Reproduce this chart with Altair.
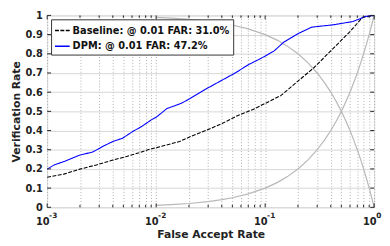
import altair as alt
import pandas as pd

# ---- data ----
dpm_far = [0.001, 0.00116, 0.00147, 0.00194, 0.00264, 0.00325, 0.004, 0.00492, 0.00605, 0.00745,
           0.00915, 0.0101, 0.0125, 0.017, 0.0202, 0.0285, 0.0389, 0.0531, 0.07, 0.0923, 0.121,
           0.149, 0.2, 0.268, 0.421, 0.637, 0.839, 1.0]
dpm_tar = [0.199, 0.221, 0.241, 0.270, 0.289, 0.318, 0.343, 0.360, 0.394, 0.423,
           0.458, 0.471, 0.514, 0.542, 0.565, 0.616, 0.658, 0.700, 0.743, 0.777, 0.815,
           0.862, 0.905, 0.939, 0.951, 0.968, 0.995, 1.0]

base_far = [0.001, 0.00142, 0.002, 0.00283, 0.004, 0.00527, 0.00695, 0.00855, 0.0101, 0.01125,
            0.0164, 0.0202, 0.0285, 0.0403, 0.0569, 0.0803, 0.121, 0.139, 0.278, 0.421, 0.594,
            0.783, 1.0]
base_tar = [0.157, 0.173, 0.199, 0.221, 0.246, 0.264, 0.284, 0.301, 0.311, 0.318,
            0.343, 0.366, 0.400, 0.437, 0.480, 0.514, 0.565, 0.582, 0.726, 0.828, 0.913,
            0.990, 1.0]

ref_far = [0.01, 0.015, 0.02, 0.03, 0.04, 0.05, 0.07, 0.1, 0.13, 0.16, 0.2, 0.25, 0.3, 0.35,
           0.4, 0.45, 0.5, 0.55, 0.6, 0.65, 0.7, 0.75, 0.8, 0.85, 0.9, 0.95, 1.0]
ref_up = [0.01, 0.015, 0.02, 0.03, 0.04, 0.05, 0.07, 0.1, 0.13, 0.16, 0.2, 0.25, 0.3, 0.35,
          0.4, 0.45, 0.5, 0.55, 0.6, 0.65, 0.7, 0.75, 0.8, 0.85, 0.9, 0.95, 1.0]
ref_down = [0.99, 0.985, 0.98, 0.97, 0.96, 0.95, 0.93, 0.9, 0.87, 0.84, 0.8, 0.75, 0.7, 0.65,
            0.6, 0.55, 0.5, 0.45, 0.4, 0.35, 0.3, 0.25, 0.2, 0.15, 0.1, 0.05, 0.0]

series_names = ["Baseline: @ 0.01 FAR: 31.0%", "DPM: @ 0.01 FAR: 47.2%"]

x_major = [0.001, 0.01, 0.1, 1.0]
x_exponents = ["-3", "-2", "-1", "0"]
x_minor = [0.002, 0.003, 0.004, 0.005, 0.006, 0.007, 0.008, 0.009,
           0.02, 0.03, 0.04, 0.05, 0.06, 0.07, 0.08, 0.09,
           0.2, 0.3, 0.4, 0.5, 0.6, 0.7, 0.8, 0.9]
y_ticks = [0, 0.1, 0.2, 0.3, 0.4, 0.5, 0.6, 0.7, 0.8, 0.9, 1.0]

W, H = 334, 196
FONT = "DejaVu Sans"

curves = pd.concat([
    pd.DataFrame({"far": base_far, "tar": base_tar, "series": series_names[0], "o": range(len(base_far))}),
    pd.DataFrame({"far": dpm_far, "tar": dpm_tar, "series": series_names[1], "o": range(len(dpm_far))}),
])
refs = pd.concat([
    pd.DataFrame({"far": ref_far, "tar": ref_up, "g": "up", "o": range(len(ref_far))}),
    pd.DataFrame({"far": ref_far, "tar": ref_down, "g": "down", "o": range(len(ref_far))}),
])

xscale = alt.Scale(type="log", domain=[0.001, 1], nice=False)
yscale = alt.Scale(domain=[0, 1], nice=False, zero=False)

label_expr = ("datum.value == 0.001 || datum.value == 0.01 || datum.value == 0.1 || "
              "datum.value == 1 ? '10' : ''")

X = alt.X("far:Q", scale=xscale, axis=alt.Axis(
    values=sorted(x_major + x_minor), labelExpr=label_expr, title="False Accept Rate",
    grid=True, gridDash=[1, 2], gridColor="#9a9a9a", gridOpacity=0.8,
    ticks=False, domain=False, labelFlush=False, labelPadding=10, labelOffset=-5,
    labelFont=FONT, labelFontSize=10, labelFontWeight="bold", labelColor="#222",
    titleFont=FONT, titleFontSize=11, titleFontWeight="bold", titleColor="#222", titlePadding=2))
Y = alt.Y("tar:Q", scale=yscale, axis=alt.Axis(
    values=y_ticks, format="~g", title="Verification Rate",
    grid=True, gridColor="#d6d6d6", ticks=False, domain=False, labelPadding=5,
    labelFont=FONT, labelFontSize=10, labelFontWeight="bold", labelColor="#222",
    titleFont=FONT, titleFontSize=11, titleFontWeight="bold", titleColor="#222", titlePadding=4))

ref_layer = alt.Chart(refs).mark_line(color="#b8b8b8", strokeWidth=1.2).encode(
    x=X, y=Y, detail="g:N", order="o:Q")

legend = alt.Legend(title=None, orient="none", legendX=4, legendY=4,
                    symbolType="stroke", symbolSize=225, symbolStrokeWidth=1.5,
                    labelFont=FONT, labelFontSize=10, labelFontWeight="bold", labelLimit=300,
                    labelColor="#111", labelOffset=2, padding=3, rowPadding=2,
                    strokeColor="#333", fillColor="white")

lines = alt.Chart(curves).mark_line(strokeWidth=1.1).encode(
    x=X, y=Y, order="o:Q",
    color=alt.Color("series:N", scale=alt.Scale(domain=series_names, range=["#000000", "#0000ff"]),
                    legend=legend),
    strokeDash=alt.StrokeDash("series:N", scale=alt.Scale(domain=series_names, range=[[4, 1.5], [1, 0]]),
                              legend=legend),
)

xmaj = pd.DataFrame({"far": x_major, "exp": x_exponents})
xmin = pd.DataFrame({"far": x_minor})
yt = pd.DataFrame({"tar": y_ticks})

exp_layer = alt.Chart(xmaj).mark_text(
    font=FONT, fontSize=7.5, fontWeight="bold", color="#222", align="left",
    baseline="alphabetic", dx=2).encode(x=X, y=alt.value(H + 11), text="exp:N")

tick_layers = [
    alt.Chart(yt).mark_rule(color="#222").encode(y=Y, x=alt.value(0), x2=alt.value(4)),
    alt.Chart(yt).mark_rule(color="#222").encode(y=Y, x=alt.value(W - 4), x2=alt.value(W)),
    alt.Chart(xmaj).mark_rule(color="#222").encode(x=X, y=alt.value(H), y2=alt.value(H - 4)),
    alt.Chart(xmaj).mark_rule(color="#222").encode(x=X, y=alt.value(0), y2=alt.value(4)),
    alt.Chart(xmin).mark_rule(color="#222").encode(x=X, y=alt.value(H), y2=alt.value(H - 2.5)),
    alt.Chart(xmin).mark_rule(color="#222").encode(x=X, y=alt.value(0), y2=alt.value(2.5)),
]

chart = alt.layer(ref_layer, lines, exp_layer, *tick_layers).properties(
    width=W, height=H,
    autosize=alt.AutoSizeParams(type="none"),
    padding={"left": 40, "top": 5, "right": 8, "bottom": 40},
).configure_view(stroke="#222", strokeWidth=1).configure(background="white")

chart.save("out.html", embed_options={"renderer": "svg", "actions": False})
